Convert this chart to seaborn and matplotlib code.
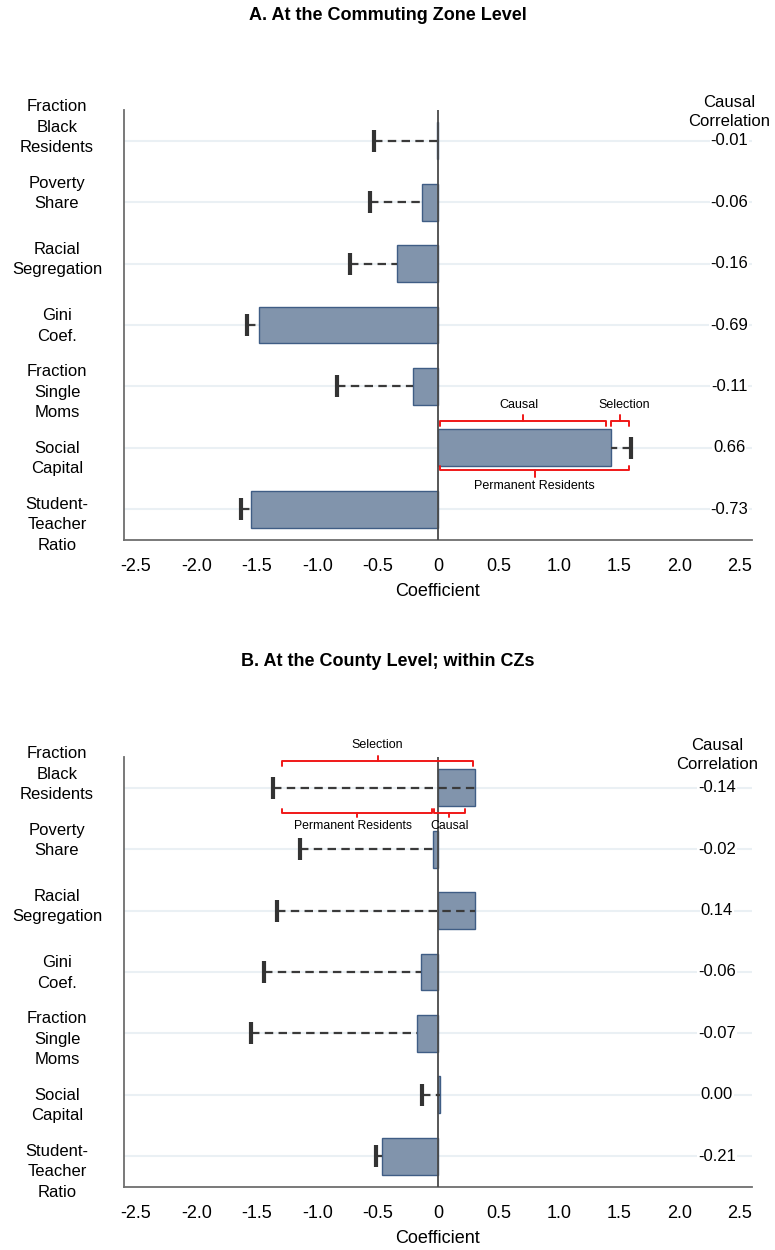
import matplotlib
matplotlib.use("Agg")
import matplotlib.pyplot as plt
import matplotlib.transforms as mtransforms
import seaborn as sns
import pandas as pd

# Outcome predictors (shared by both panels)
categories = [
    "Fraction\nBlack\nResidents",
    "Poverty\nShare",
    "Racial\nSegregation",
    "Gini\nCoef.",
    "Fraction\nSingle\nMoms",
    "Social\nCapital",
    "Student-\nTeacher\nRatio",
]

# Panel A: commuting zone level
cz_causal = [-0.01, -0.13, -0.34, -1.48, -0.21, 1.43, -1.55]
cz_permanent = [-0.53, -0.56, -0.73, -1.58, -0.84, 1.60, -1.63]
cz_corr = ["-0.01", "-0.06", "-0.16", "-0.69", "-0.11", "0.66", "-0.73"]

# Panel B: county level within CZs
county_causal = [0.31, -0.04, 0.31, -0.14, -0.17, 0.02, -0.46]
county_permanent = [-1.37, -1.14, -1.33, -1.44, -1.55, -0.135, -0.51]
county_corr = ["-0.14", "-0.02", "0.14", "-0.06", "-0.07", "0.00", "-0.21"]

xticks = [-2.5, -2.0, -1.5, -1.0, -0.5, 0, 0.5, 1.0, 1.5, 2.0, 2.5]
xtick_labels = ["-2.5", "-2.0", "-1.5", "-1.0", "-0.5", "0", "0.5", "1.0", "1.5", "2.0", "2.5"]

sns.set_theme(style="white")
plt.rcParams["font.family"] = ["Liberation Sans", "DejaVu Sans"]
plt.rcParams["text.color"] = "black"
plt.rcParams["axes.labelcolor"] = "black"
plt.rcParams["xtick.labelcolor"] = "black"
plt.rcParams["ytick.labelcolor"] = "black"

BAR = "#8194ac"
BAR_EDGE = "#3f5d85"
INK = "#333333"
AXIS = "#6e6e6e"
GRID = "#eaf0f4"
RED = "#f01818"

fig = plt.figure(figsize=(7.75, 12.5), dpi=100)
ax_a = fig.add_axes([124 / 775, 1 - 540 / 1250, 628 / 775, 430 / 1250])
ax_b = fig.add_axes([124 / 775, 1 - 1187 / 1250, 628 / 775, 430 / 1250])

# Row labels sit in a column a little more spread out than the rows themselves
LABEL_X = 57 / 775
LABEL_SPREAD = 1.078


def brace(ax, x0, x1, y, hook, nub):
    """Bracket from x0 to x1 at height y with end hooks and a centre nub."""
    xm = (x0 + x1) / 2
    ax.plot([x0, x0, x1, x1], [y + hook, y, y, y + hook], color=RED, lw=1.4,
            solid_joinstyle="round", clip_on=False, zorder=6)
    ax.plot([xm, xm], [y, y - nub], color=RED, lw=1.4, clip_on=False, zorder=6)


def draw_panel(ax, causal, permanent, corr, label_x, header_y):
    df = pd.DataFrame({"category": categories, "causal": causal})
    sns.barplot(data=df, x="causal", y="category", orient="h", color=BAR,
                width=0.6, saturation=1, edgecolor=BAR_EDGE, linewidth=1.0,
                ax=ax, zorder=2)
    for i, (c, p) in enumerate(zip(causal, permanent)):
        ax.plot([p, c], [i, i], color="#3a3a3a", lw=1.6, dashes=(3.8, 2.4), zorder=4)
        ax.plot([p], [i], marker="|", markersize=16.5, mew=3.0, color=INK, zorder=5)
    ax.axvline(0, color="#4a4a4a", lw=1.3, zorder=3)

    ax.set_xlim(-2.6, 2.6)
    ax.set_ylim(6.5, -0.5)
    ax.set_xticks(xticks)
    ax.set_xticklabels(xtick_labels, fontsize=13)
    ax.set_yticks(range(len(categories)))
    ax.set_yticklabels([""] * len(categories))
    ax.set_xlabel("Coefficient", fontsize=13, labelpad=5.5)
    ax.set_ylabel("")
    ax.tick_params(axis="x", direction="out", length=8, width=1.2, color=AXIS, pad=5)
    ax.tick_params(axis="y", direction="out", length=8, width=1.2, color=AXIS)
    ax.grid(axis="y", color=GRID, lw=1.5, zorder=0)
    ax.grid(axis="x", visible=False)
    ax.set_axisbelow(True)
    for side in ("top", "right"):
        ax.spines[side].set_visible(False)
    for side in ("left", "bottom"):
        ax.spines[side].set_color(AXIS)
        ax.spines[side].set_linewidth(1.3)

    mid = (len(categories) - 1) / 2
    trans = mtransforms.blended_transform_factory(fig.transFigure, ax.transData)
    for i, name in enumerate(categories):
        ax.text(LABEL_X, mid + 0.016 + (i - mid) * LABEL_SPREAD, name, transform=trans,
                fontsize=12, ha="center", va="center", multialignment="center",
                linespacing=1.45, clip_on=False)

    ax.text(label_x, header_y, "Causal\nCorrelation", fontsize=12, ha="center",
            va="center", linespacing=1.3, clip_on=False)
    for i, s in enumerate(corr):
        ax.text(label_x, i, s, fontsize=12, ha="center", va="center",
                bbox=dict(facecolor="white", edgecolor="none", pad=0.5))


draw_panel(ax_a, cz_causal, cz_permanent, cz_corr, 2.41, -0.47)
draw_panel(ax_b, county_causal, county_permanent, county_corr, 2.31, -0.53)

# Panel A annotations on Social Capital (row 5)
brace(ax_a, 0.02, 1.39, 5 - 0.44, 0.09, 0.10)
brace(ax_a, 1.43, 1.58, 5 - 0.44, 0.09, 0.10)
brace(ax_a, 0.02, 1.58, 5 + 0.36, -0.07, -0.11)
ax_a.text(0.67, 5 - 0.70, "Causal", fontsize=9, ha="center", va="center")
ax_a.text(1.54, 5 - 0.70, "Selection", fontsize=9, ha="center", va="center")
ax_a.text(0.80, 5 + 0.62, "Permanent Residents", fontsize=9, ha="center", va="center")

# Panel B annotations on Fraction Black Residents (row 0)
brace(ax_b, -1.29, 0.29, -0.44, 0.08, 0.08)
brace(ax_b, -1.29, -0.05, 0.41, -0.07, -0.07)
brace(ax_b, -0.03, 0.22, 0.41, -0.07, -0.07)
ax_b.text(-0.50, -0.70, "Selection", fontsize=9, ha="center", va="center")
ax_b.text(-0.70, 0.63, "Permanent Residents", fontsize=8.8, ha="center", va="center")
ax_b.text(0.10, 0.63, "Causal", fontsize=8.8, ha="center", va="center")

fig.text(0.5, 1 - 16 / 1250, "A. At the Commuting Zone Level", fontsize=13,
         fontweight="bold", ha="center", va="center")
fig.text(0.5, 1 - 662 / 1250, "B. At the County Level; within CZs", fontsize=13,
         fontweight="bold", ha="center", va="center")

fig.savefig("out.png", dpi=100, facecolor="white")
